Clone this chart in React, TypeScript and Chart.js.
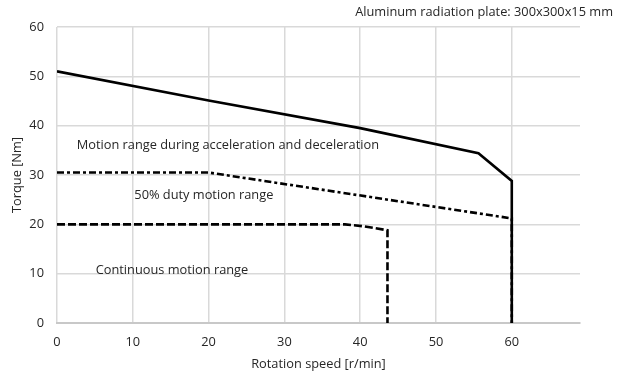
import React, { useEffect, useRef } from "react";
import { Chart, registerables } from "chart.js";

Chart.register(...registerables);

// Motion range during acceleration and deceleration (solid)
const accelX = [0, 20, 40, 55.6, 60, 60];
const accelY = [51, 45.1, 39.5, 34.4, 28.8, 0];
// 50% duty motion range (dash-dot)
const dutyX = [0, 20, 60, 60];
const dutyY = [30.5, 30.5, 21.2, 0];
// Continuous motion range (dashed)
const contX = [0, 38, 40.5, 43.6, 43.6];
const contY = [20, 20, 19.6, 18.8, 0];

const xTitle = "Rotation speed [r/min]";
const yTitle = "Torque [Nm]";
const topNote = "Aluminum radiation plate: 300x300x15 mm";
const labels = [
  { text: "Motion range during acceleration and deceleration", x: 2.6, y: 36.1 },
  { text: "50% duty motion range", x: 10.2, y: 25.9 },
  { text: "Continuous motion range", x: 5.1, y: 10.7 },
];

const FONT = "'Open Sans', 'Liberation Sans', Arial, sans-serif";
const FS = 12.8;
const TEXT = "#262626";

const toPts = (xs: number[], ys: number[]) => xs.map((x, i) => ({ x, y: ys[i] }));

export default function App() {
  const ref = useRef<HTMLCanvasElement | null>(null);
  useEffect(() => {
    if (!ref.current) return;
    const textPlugin = {
      id: "texts",
      afterDatasetsDraw(chart: any) {
        const ctx = chart.ctx;
        const xs = chart.scales.x;
        const ys = chart.scales.y;
        ctx.save();
        ctx.fillStyle = TEXT;
        ctx.font = `${FS}px ${FONT}`;
        ctx.textBaseline = "middle";
        ctx.textAlign = "left";
        labels.forEach((l) => {
          ctx.fillText(l.text, xs.getPixelForValue(l.x), ys.getPixelForValue(l.y));
        });
        ctx.textAlign = "right";
        ctx.fillText(topNote, 613, 12);
        ctx.restore();
      },
    };
    const common = {
      showLine: true,
      pointRadius: 0,
      borderColor: "#000",
      backgroundColor: "#000",
      borderWidth: 2.6,
      borderJoinStyle: "miter",
      borderCapStyle: "butt",
      fill: false,
      tension: 0,
    };
    const chart = new Chart(ref.current, {
      type: "scatter",
      data: {
        datasets: [
          { ...common, label: "accel", data: toPts(accelX, accelY) },
          { ...common, label: "duty", data: toPts(dutyX, dutyY), borderDash: [7, 3, 3, 3] },
          { ...common, label: "cont", data: toPts(contX, contY), borderDash: [8, 3] },
        ],
      } as any,
      options: {
        animation: false,
        responsive: true,
        maintainAspectRatio: false,
        layout: { padding: { top: 27, right: 42, bottom: 0, left: 0 } },
        plugins: { legend: { display: false }, tooltip: { enabled: false } },
        scales: {
          x: {
            type: "linear",
            min: 0,
            max: 69,
            ticks: {
              stepSize: 10,
              includeBounds: false,
              padding: 12,
              color: TEXT,
              font: { family: FONT, size: FS },
            },
            grid: { color: "#d9d9d9", lineWidth: 1.5, drawTicks: false },
            border: { color: "#c8c8c8", width: 2 },
            title: {
              display: true,
              text: xTitle,
              color: TEXT,
              font: { family: FONT, size: FS },
              padding: { top: 0, bottom: 5 },
            },
            afterFit: (s: any) => {
              s.height = 54;
            },
          },
          y: {
            type: "linear",
            min: 0,
            max: 60,
            ticks: {
              stepSize: 10,
              padding: 13,
              color: TEXT,
              font: { family: FONT, size: FS },
            },
            grid: { color: "#d9d9d9", lineWidth: 1.5, drawTicks: false },
            border: { display: false },
            title: {
              display: true,
              text: yTitle,
              color: TEXT,
              font: { family: FONT, size: FS },
              padding: { top: 10, bottom: 0 },
            },
            afterFit: (s: any) => {
              s.width = 57;
            },
          },
        },
      } as any,
      plugins: [textPlugin],
    });
    return () => chart.destroy();
  }, []);
  return (
    <div style={{ position: "fixed", left: 0, top: 0, width: 622, height: 377, background: "#fff" }}>
      <canvas ref={ref} />
    </div>
  );
}
